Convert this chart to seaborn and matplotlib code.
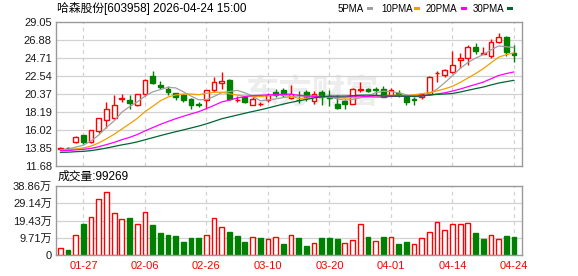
import numpy as np
import pandas as pd
import matplotlib
matplotlib.use("Agg")
import matplotlib.pyplot as plt
import seaborn as sns
from matplotlib.patches import Rectangle

# ---------------- data ----------------
title = "哈森股份[603958] 2026-04-24 15:00"
vol_label = "成交量:99269"

opens = [13.72, 13.90, 14.52, 15.36, 14.55, 15.90, 17.20, 17.40, 19.72, 19.62,
         19.05, 20.30, 22.44, 21.43, 20.98, 20.40, 20.20, 19.72, 19.10, 19.58,
         20.85, 21.67, 22.05, 19.58, 20.00, 19.05, 19.10, 19.60, 20.56, 20.80,
         19.88, 19.64, 20.56, 19.45, 20.56, 19.92, 19.09, 19.49, 19.17, 20.84,
         20.95, 20.90, 20.95, 20.24, 20.48, 20.00, 19.70, 20.00, 20.28, 22.82,
         22.58, 22.98, 24.37, 24.72, 25.95, 25.20, 24.96, 26.55, 27.23, 25.32]
closes = [13.90, 13.85, 15.20, 14.55, 15.95, 17.45, 18.52, 19.02, 19.80, 19.25,
          20.30, 21.98, 21.62, 21.17, 20.62, 19.95, 19.62, 19.02, 18.98, 20.80,
          21.78, 21.93, 19.68, 19.64, 19.37, 19.76, 19.15, 20.16, 20.24, 20.22,
          20.28, 19.58, 20.00, 20.36, 20.00, 19.86, 18.61, 19.09, 20.95, 20.90,
          20.64, 20.85, 20.00, 20.76, 20.16, 19.37, 19.66, 20.36, 22.38, 22.90,
          23.18, 23.85, 24.72, 25.95, 25.56, 25.28, 26.63, 27.15, 25.44, 25.04]
highs = [13.93, 13.96, 15.28, 15.40, 16.00, 17.50, 19.38, 20.20, 20.28, 20.17,
         20.32, 22.10, 23.10, 21.90, 21.35, 20.45, 20.30, 19.82, 19.40, 20.85,
         22.32, 22.92, 22.12, 20.14, 20.08, 20.00, 19.37, 20.48, 20.95, 21.03,
         21.47, 20.64, 20.87, 20.68, 20.87, 20.87, 20.16, 19.68, 21.07, 21.75,
         21.11, 21.15, 21.35, 21.07, 20.76, 20.16, 20.00, 20.48, 22.46, 23.14,
         23.34, 25.56, 25.24, 26.23, 26.43, 25.95, 26.91, 27.62, 27.30, 26.23]
lows = [13.68, 13.78, 14.45, 14.30, 14.45, 15.60, 16.30, 17.30, 19.38, 18.52,
        18.85, 20.15, 21.50, 20.90, 20.20, 19.60, 19.42, 18.50, 18.78, 18.58,
        20.60, 20.98, 19.66, 19.40, 19.29, 18.97, 18.89, 19.37, 20.00, 20.00,
        19.76, 19.29, 19.49, 19.09, 18.97, 18.89, 18.49, 18.57, 19.09, 20.56,
        20.56, 20.16, 20.00, 20.16, 20.00, 18.97, 18.97, 19.76, 20.16, 21.75,
        22.34, 22.86, 23.45, 23.85, 25.16, 25.16, 24.64, 26.43, 24.92, 24.13]

ma5 = [13.65, 13.70, 13.95, 14.18, 14.69, 15.40, 16.33, 17.10, 18.15, 18.81,
       19.38, 20.07, 20.59, 20.86, 21.14, 21.07, 20.60, 20.08, 19.64, 19.67,
       20.04, 20.50, 20.63, 20.77, 20.48, 20.08, 19.52, 19.62, 19.74, 19.91,
       20.01, 20.10, 20.06, 20.09, 20.04, 19.96, 19.77, 19.58, 19.70, 19.88,
       20.04, 20.49, 20.67, 20.63, 20.48, 20.23, 19.99, 20.06, 20.39, 20.93,
       21.70, 22.53, 23.41, 24.12, 24.65, 25.07, 25.63, 26.11, 26.01, 25.91]
ma10 = [13.60, 13.62, 13.72, 13.85, 14.08, 14.45, 14.95, 15.50, 16.12, 16.75,
        17.39, 18.20, 18.84, 19.51, 19.97, 20.22, 20.33, 20.33, 20.25, 20.41,
        20.55, 20.55, 20.36, 20.20, 20.08, 20.06, 20.01, 20.13, 20.25, 20.19,
        20.04, 19.81, 19.84, 19.91, 19.98, 19.99, 19.93, 19.82, 19.90, 19.96,
        20.00, 20.13, 20.13, 20.17, 20.18, 20.13, 20.24, 20.37, 20.51, 20.71,
        20.96, 21.26, 21.73, 22.25, 22.79, 23.38, 24.08, 24.76, 25.07, 25.28]
ma20 = [13.52, 13.54, 13.62, 13.68, 13.80, 14.00, 14.25, 14.52, 14.84, 15.12,
        15.46, 15.89, 16.29, 16.68, 17.03, 17.36, 17.66, 17.94, 18.21, 18.58,
        18.97, 19.38, 19.60, 19.85, 20.03, 20.14, 20.17, 20.23, 20.25, 20.30,
        20.30, 20.18, 20.10, 20.06, 20.03, 20.02, 19.97, 19.97, 20.07, 20.08,
        20.02, 19.97, 19.98, 20.04, 20.08, 20.06, 20.08, 20.09, 20.20, 20.34,
        20.48, 20.69, 20.93, 21.21, 21.49, 21.76, 22.16, 22.56, 22.79, 22.99]
ma30 = [13.32, 13.34, 13.40, 13.44, 13.53, 13.67, 13.84, 14.03, 14.22, 14.38,
        14.58, 14.83, 15.08, 15.33, 15.57, 15.80, 16.02, 16.25, 16.48, 16.75,
        17.05, 17.36, 17.58, 17.80, 18.02, 18.23, 18.43, 18.65, 18.89, 19.12,
        19.33, 19.52, 19.68, 19.87, 20.01, 20.09, 20.09, 20.09, 20.13, 20.19,
        20.20, 20.16, 20.11, 20.09, 20.08, 20.06, 20.06, 20.10, 20.22, 20.29,
        20.33, 20.40, 20.57, 20.78, 20.98, 21.17, 21.42, 21.65, 21.82, 21.98]

volume_wan = [3.7, 2.8, 11.0, 17.4, 21.6, 31.7, 35.6, 23.5, 20.5, 20.7,
              17.7, 24.4, 16.8, 12.3, 11.0, 10.6, 7.3, 9.5, 9.5, 11.0,
              21.1, 15.5, 12.9, 10.6, 7.3, 9.9, 9.5, 8.8, 10.4, 6.2,
              11.0, 9.5, 5.0, 6.5, 9.5, 9.5, 9.0, 6.5, 8.2, 17.2,
              10.1, 7.8, 10.1, 10.4, 6.2, 7.3, 6.0, 9.3, 12.9, 18.8,
              13.8, 17.2, 17.7, 18.3, 12.3, 8.8, 11.0, 8.8, 10.6, 9.93]
vol_up = [1, 0, 1, 0, 1, 1, 1, 1, 1, 0,
          1, 1, 0, 0, 0, 0, 0, 0, 0, 1,
          1, 1, 0, 0, 0, 1, 0, 1, 1, 0,
          1, 0, 0, 1, 0, 0, 0, 1, 1, 1,
          0, 1, 0, 1, 0, 0, 1, 1, 1, 1,
          1, 1, 1, 1, 0, 0, 1, 1, 0, 0]

price_ticks = [11.68, 13.85, 16.02, 18.19, 20.37, 22.54, 24.71, 26.88, 29.05]
price_tick_labels = ["11.68", "13.85", "16.02", "18.19", "20.37", "22.54", "24.71", "26.88", "29.05"]
vol_ticks = [0, 9.71, 19.43, 29.14, 38.86]
vol_tick_labels = ["0", "9.71万", "19.43万", "29.14万", "38.86万"]
date_tick_pos = [3, 11, 19, 27, 35, 43, 51, 59]
date_tick_labels = ["01-27", "02-06", "02-26", "03-10", "03-20", "04-01", "04-14", "04-24"]

ma_names = ["5PMA", "10PMA", "20PMA", "30PMA"]
ma_colors = ["#a0a0a0", "#f0a000", "#ff00ff", "#006633"]

# ---------------- style ----------------
sns.set_theme(style="white")
plt.rcParams["font.family"] = ["Liberation Sans", "Noto Sans CJK SC", "DejaVu Sans"]

RED = "#ff0000"
GREEN = "#008000"
SPINE = "#9a9a9a"
GRID = "#d2d2d2"
TXT = "#1a1a1a"

W, H = 578, 276
fig = plt.figure(figsize=(W / 100, H / 100), dpi=100)
fig.patch.set_facecolor("white")


def rect(l, t, r, b):
    return [l / W, 1 - b / H, (r - l) / W, (b - t) / H]


axp = fig.add_axes(rect(56, 21.5, 522, 166))
axv = fig.add_axes(rect(56, 186, 522, 255))

n = len(opens)
idx = np.arange(n)
o = np.array(opens)
c = np.array(closes)
h = np.array(highs)
lo = np.array(lows)
up = c >= o
body_lo = np.minimum(o, c)
body_hi = np.maximum(o, c)
body_h = np.maximum(body_hi - body_lo, 0.03)
BW = 0.62

for ax in (axp, axv):
    ax.set_xlim(-0.56, 60.04)
    ax.set_facecolor("white")
    for s in ax.spines.values():
        s.set_color(SPINE)
        s.set_linewidth(1.0)
    for xp in date_tick_pos:
        ax.axvline(xp, color=GRID, lw=0.9, ls=(0, (3, 3)), zorder=0.6)

# ---------------- price panel ----------------
axp.set_ylim(price_ticks[0], price_ticks[-1])
for yv in price_ticks[1:-1]:
    axp.axhline(yv, color=GRID, lw=0.9, zorder=0.6)

axp.text(0.55, 0.5, "东方财富", transform=axp.transAxes, ha="center", va="center",
         fontsize=24, fontweight="bold", color="#ededed", zorder=0.5,
         family=["Noto Sans CJK SC"])

# candles
axp.vlines(idx[~up], lo[~up], h[~up], color=GREEN, lw=1.0, zorder=2)
axp.vlines(idx[up], lo[up], body_lo[up], color=RED, lw=1.0, zorder=2)
axp.vlines(idx[up], body_hi[up], h[up], color=RED, lw=1.0, zorder=2)
axp.bar(idx[up], body_h[up], bottom=body_lo[up], width=BW, facecolor="white",
        edgecolor=RED, linewidth=1.0, zorder=2.1)
axp.bar(idx[~up], body_h[~up], bottom=body_lo[~up], width=BW, facecolor=GREEN,
        edgecolor=GREEN, linewidth=1.0, zorder=2.1)

# moving averages
ma_df = pd.DataFrame({"idx": np.tile(idx, 4),
                      "value": np.concatenate([ma5, ma10, ma20, ma30]),
                      "ma": np.repeat(ma_names, n)})
sns.lineplot(data=ma_df, x="idx", y="value", hue="ma", hue_order=ma_names,
             palette=dict(zip(ma_names, ma_colors)), linewidth=0.9,
             legend=False, ax=axp, zorder=3)

axp.set_yticks(price_ticks)
axp.set_yticklabels(price_tick_labels)
axp.set_xticks([])
axp.set_xlabel("")
axp.set_ylabel("")
axp.tick_params(axis="y", length=0, pad=3, labelsize=8, labelcolor=TXT)

# ---------------- volume panel ----------------
axv.set_ylim(0, vol_ticks[-1])
for yv in vol_ticks[1:-1]:
    axv.axhline(yv, color=GRID, lw=0.9, zorder=0.6)
vu = np.array(vol_up).astype(bool)
vv = np.array(volume_wan)
axv.bar(idx[vu], vv[vu], width=BW, facecolor="white", edgecolor=RED, linewidth=1.0, zorder=2)
axv.bar(idx[~vu], vv[~vu], width=BW, facecolor=GREEN, edgecolor=GREEN, linewidth=1.0, zorder=2)
axv.set_yticks(vol_ticks)
axv.set_yticklabels(vol_tick_labels)
axv.set_xticks(date_tick_pos)
axv.set_xticklabels(date_tick_labels)
axv.tick_params(axis="y", length=0, pad=3, labelsize=8, labelcolor=TXT)
axv.tick_params(axis="x", length=0, pad=4, labelsize=8, labelcolor=RED)

# ---------------- texts ----------------
fig.text(57 / W, 1 - 8.5 / H, title, ha="left", va="center", fontsize=8.5, color="#000000")
fig.text(58 / W, 1 - 177 / H, vol_label, ha="left", va="center", fontsize=8.5, color="#000000")

leg_x = [338, 381, 426, 473]
sq_x = [367, 414, 461, 507]
for name, col, tx, sx in zip(ma_names, ma_colors, leg_x, sq_x):
    fig.text(tx / W, 1 - 8.5 / H, name, ha="left", va="center", fontsize=7, color="#000000")
    fig.patches.append(Rectangle((sx / W, 1 - 10 / H), 6 / W, 3 / H, transform=fig.transFigure,
                                 facecolor=col, edgecolor="none"))

fig.savefig("out.png", dpi=100, facecolor="white")
